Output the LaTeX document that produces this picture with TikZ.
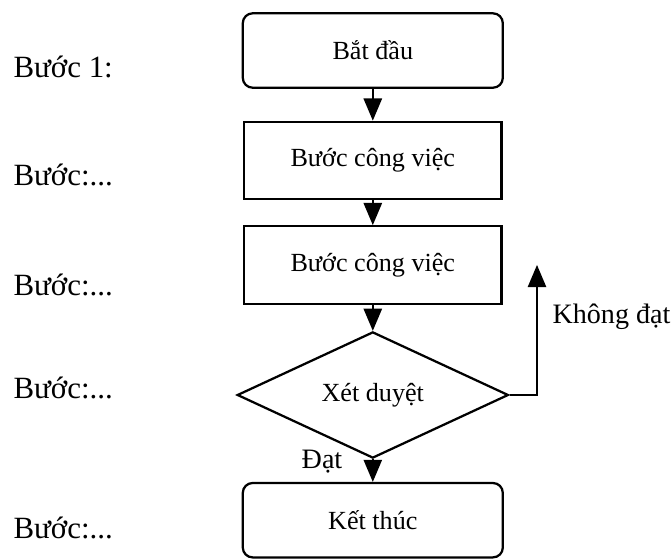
\documentclass[tikz,border=0pt]{standalone}
\usepackage{fontspec}
\setmainfont{Liberation Serif}
\usepackage{tikz}
\usetikzlibrary{shapes.geometric,arrows}

\begin{document}
\begin{tikzpicture}[draw=black]
      \tikzstyle{arrow} = [thick, ->, >=triangle 45]
      \tikzstyle{startstop} = [rectangle, rounded corners=3.5pt, minimum width=3.25cm, minimum height=0.93cm, text centered, draw=black, thick, font=\fontsize{9.3}{11}\selectfont]
      \tikzstyle{process} = [rectangle, minimum width=3.22cm, minimum height=0.97cm, text centered, draw=black, thick, font=\fontsize{9.3}{11}\selectfont]
      \tikzstyle{decision} = [diamond, minimum width=3.39cm, minimum height=1.55cm, inner sep=0pt, text centered, draw=black, thick, font=\fontsize{9.3}{11}\selectfont]
      \tikzstyle{steplabel} = [anchor=west, inner sep=0pt, font=\fontsize{11}{13}\selectfont]

      \useasboundingbox (0cm, 0cm) rectangle (8.4cm, 6.9875cm);

      \node (start) [startstop] at (4.66cm, 6.356cm) {Bắt đầu};
      \node (work-1) [process] at (4.66cm, 4.981cm) {Bước công việc};
      \node (work-2) [process] at (4.66cm, 3.675cm) {Bước công việc};
      \node (check) [decision] at (4.66cm, 2.05cm) {Xét duyệt};
      \node (finish) [startstop] at (4.66cm, 0.485cm) {Kết thúc};
      \coordinate (back) at (6.7125cm, 3.675cm);

      \draw [arrow] (start) -- (work-1);
      \draw [arrow] (work-1) -- (work-2);
      \draw [arrow] (work-2) -- (check);
      \draw [arrow] (check) -- (finish);
      \draw [arrow] (check.east) -| (back);

      \node (label-pass) [font=\fontsize{10}{12}\selectfont, inner sep=0pt] at (4.025cm, 1.2125cm) {Đạt};
      \node (label-fail) [anchor=west, font=\fontsize{10}{12}\selectfont, inner sep=0pt] at (6.9cm, 3.025cm) {Không đạt};

      \foreach \i/\y/\t in {1/6.15/{Bước 1:}, 2/4.8/{Bước:...}, 3/3.425/{Bước:...}, 4/2.1375/{Bước:...}, 5/0.3875/{Bước:...}}
      {
        \node (step-\i) [steplabel] at (0.1625cm, \y cm) {\t};
      }
\end{tikzpicture}
\end{document}
